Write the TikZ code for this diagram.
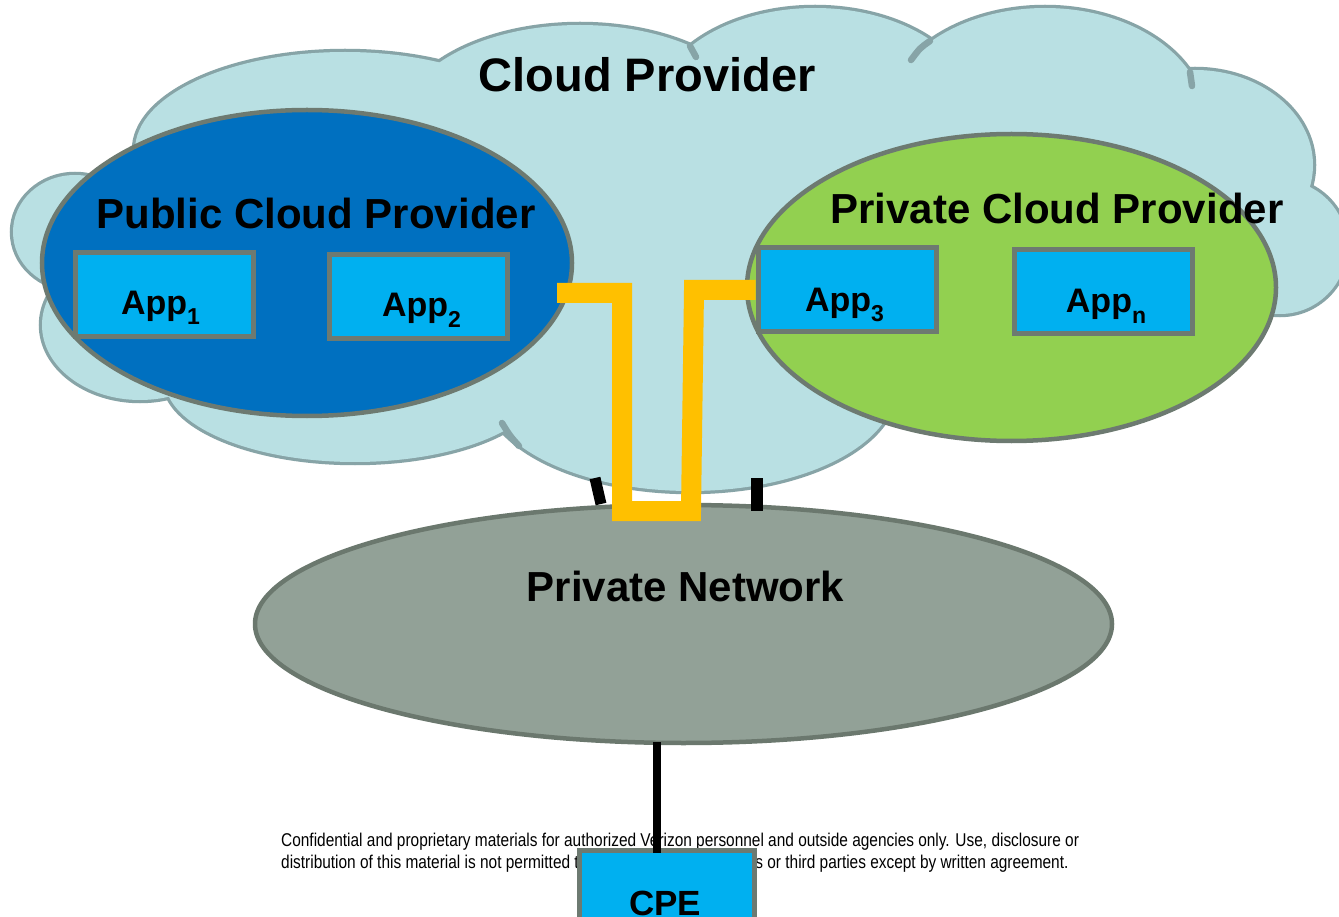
\documentclass[tikz,border=0pt]{standalone}
\usepackage{fontspec}
\setmainfont{Liberation Sans}
\newfontfamily\narrowfont[FakeStretch=0.834]{Liberation Sans}
\usetikzlibrary{shapes.geometric}

\definecolor{cloudfill}{HTML}{B9E0E3}
\definecolor{cloudline}{HTML}{87A4A7}
\definecolor{pubblue}{HTML}{0070C0}
\definecolor{privgreen}{HTML}{92D050}
\definecolor{appblue}{HTML}{00B0F0}
\definecolor{rimgray}{HTML}{6D7A71}
\definecolor{netfill}{HTML}{92A197}
\definecolor{netline}{HTML}{6B786E}
\definecolor{linkyellow}{HTML}{FFC000}

\newcommand{\subidx}[1]{\raisebox{-10pt}{\fontsize{23}{23}\selectfont\bfseries #1}}
\def\cloudbumps{345/150/210/98, 580/125/180/100, 815/112/160/104, 1045/120/160/112, 1195/165/118/95, 1280/247/67/67, 690/388/205/103, 355/380/190/82, 140/325/98/75, 75/232/62/57}

\begin{document}
\begin{tikzpicture}[x=1pt,y=-1pt,
  cloudrim/.style={draw=cloudline, line width=6.5pt, line cap=round},
  region/.style={ellipse, draw=rimgray, line width=4.5pt, inner sep=0pt},
  appbox/.style={rectangle, draw=rimgray, line width=5pt, fill=appblue, minimum width=178pt, minimum height=84pt, inner sep=0pt},
  title/.style={font=\fontsize{42}{48}\selectfont\bfseries, anchor=base, inner sep=0pt},
  bigtitle/.style={font=\fontsize{47}{54}\selectfont\bfseries, anchor=base, inner sep=0pt},
  applabel/.style={font=\fontsize{34}{40}\selectfont\bfseries, anchor=base, inner sep=0pt},
  legal/.style={font=\narrowfont\fontsize{18.5}{22}\selectfont, anchor=base west, inner sep=0pt},
  ylink/.style={draw=linkyellow, line width=20pt},
  stub/.style={draw=black, line width=11pt},
  cpelink/.style={draw=black, line width=8pt}]
\useasboundingbox (0,0) rectangle (1339,917);
\clip (0,0) rectangle (1339,917);
\fill[white] (0,0) rectangle (1339,917);

% cloud outline (union of bumps)
\foreach \cx/\cy/\rx/\ry in \cloudbumps
  \draw[cloudrim, fill=cloudfill] (\cx,\cy) ellipse [x radius=\rx pt, y radius=\ry pt];
\foreach \cx/\cy/\rx/\ry in \cloudbumps
  \fill[cloudfill] (\cx,\cy) ellipse [x radius=\rx pt, y radius=\ry pt];
\fill[cloudfill] (700,260) ellipse [x radius=550pt, y radius=170pt];
% inner tails of the cloud
\draw[cloudrim] (930,41) .. controls (920,48) .. (911,60);
\draw[cloudrim] (1190,72) -- (1192,86);
\draw[cloudrim] (690,46) -- (696,57);
\draw[cloudrim] (519,446) .. controls (510,436) .. (502,423);

% provider regions
\node[region, fill=pubblue, minimum width=530pt, minimum height=306pt] (pub) at (307,263) {};
\node[region, fill=privgreen, minimum width=529pt, minimum height=307pt] (priv) at (1011.5,287.5) {};

% apps
\node[appbox] (app1) at (164.5,294.5) {};
\node[appbox] (app2) at (418.5,296.5) {};
\node[appbox] (app3) at (847,290) {};
\node[appbox] (appn) at (1103,292) {};

% titles
\node[bigtitle] (tcloud) at (647,92) {Cloud Provider};
\node[title] (tpub) at (316,229) {Public Cloud Provider};
\node[title] (tpriv) at (1057,224) {Private Cloud Provider};

\node[applabel] (l1) at (160.5,315) {App\subidx{1}};
\node[applabel] (l2) at (421.5,317) {App\subidx{2}};
\node[applabel] (l3) at (844.5,312) {App\subidx{3}};
\node[applabel] (ln) at (1106,313) {App\subidx{n}};

% private network
\node[region, draw=netline, fill=netfill, minimum width=857pt, minimum height=238pt] (net) at (683.5,624) {};
\node[title] (tnet) at (685.5,601) {Private Network};

% yellow link between public cloud and App3
\coordinate (ylA) at (557,293);
\draw[ylink] (ylA) -- (622,293) -- (622,511) -- (691,511) -- (694,290) -- (app3.west);

% stubs between cloud and network
\coordinate (tkA1) at (595,478);
\coordinate (tkA2) at (601,504);
\coordinate (tkB1) at (757,478);
\coordinate (tkB2) at (757,511);
\draw[stub] (tkA1) -- (tkA2);
\draw[stub, line width=12pt] (tkB1) -- (tkB2);

% footer
\node[legal] (legal1) at (281,846.5) {Confidential and proprietary materials for authorized Verizon personnel and outside agencies only. Use, disclosure or};
\node[legal] (legal2) at (281,868) {distribution of this material is not permitted to any\hspace{-6pt} unauthorized persons or third parties except by written agreement.};

% CPE
\node[appbox, minimum width=175pt, minimum height=140pt] (cpe) at (667,920.5) {};
\node[applabel, font=\fontsize{35}{40}\selectfont\bfseries] (tcpe) at (665,915) {CPE};
\draw[cpelink] ([xshift=-26.5pt,yshift=3pt]net.south) -- ([xshift=-10pt,yshift=-5pt]cpe.north);
\end{tikzpicture}
\end{document}
